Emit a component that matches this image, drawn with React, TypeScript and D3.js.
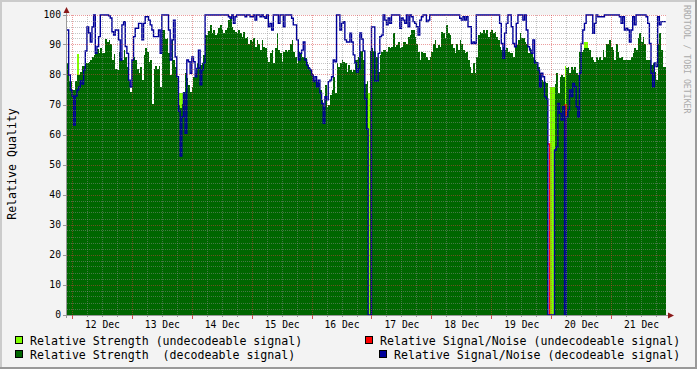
import React from 'react';
import * as d3 from 'd3';

// ---- data (one sample every 40 minutes, starting 11 Dec 21:48) ----
const startTime = Date.UTC(2008, 11, 11, 21, 48);
const stepMinutes = 40;

const strengthDecodeable = [
  84,78,78,75,75,78,80,80,81,83, 83,84,84,84.5,85,86,86.7,87.8,88.6,87.4, 89,87.2,87.2,91.9,91,91.7,90.5,85,87,82,
  81.7,87.8,85.6,85,88.3,86,82.8,78,74.5,85, 86,85,82,80.6,82.8,78.3,86.7,89,87.8,84.4, 85,70.5,82,83,82,83,76,95,95,92,
  92.2,87.2,80,91.7,85,82.8,78.9,70,69,70.5, 74.4,80.6,78.9,76.7,74.4,76,79.4,80.6,84,82.8, 83.3,84,86.7,93.3,93.3,94.8,96.7,93.9,95,93.3,
  93.9,95.6,96.7,95,93.9,95,95.6,98.3,98.9,96.1, 95,94.4,93.9,95,93.9,92.8,94.4,92.2,92.8,90.5, 91.7,91,92.2,89.4,91.7,90.5,88.3,91.7,89.4,89,
  86,84.4,87.2,88.3,84,89,93.9,88.3,87.2,84.4, 87.8,88.3,87.8,88.3,90.5,91.7,87.8,86,84,87.8, 87.2,86,86,85.6,84.4,82.8,81.7,80.6,78.3,78.3,
  77.8,77.2,75,71.7,69.4,76.7,69.4,70,73.3,75, 79.4,73.9,84,82.8,84,85,84.4,84,81.1,83.3, 81.7,81.1,81.7,85,85,86,88,88,85,77,
  78,0,88,89,88,88,86,81,86.7,87.8, 88.3,88.3,87.8,89.4,89,89.4,93.9,89.4,90,91, 89,89.4,91,91,90.5,92.8,93.3,95,95,92.8,
  90.5,87.8,85,87.8,87.2,87.2,86,85,86,87.8, 90.5,91.7,89,90,89.4,94.4,93.9,92.2,96.7,93.9, 93.3,90.5,89,87.2,90.5,88.3,91.7,90.5,88.3,87.2,
  87.8,85,82.8,80.6,84,80.6,86,93.3,94.4,93.9, 95,93.9,95,92.8,94.4,95,93.9,94.4,92.8,91.7, 89.4,88.3,89.4,88.3,89,87.8,87.2,87.2,86,89.4,
  90,91.7,93.9,92.2,92.2,91,90.5,87.2,89,87.2, 86,85,84.4,82.8,80.6,78.3,77.8,77.8,77.2,0, 0,0,0,77,80.6,74,79.4,80,79.4,70,
  82.2,82.8,80.6,82.8,81.7,82.8,80.6,80,87.8,87.8, 88.3,89,89,89,88.3,86,85,84.4,86,85, 86,85,88.3,86,90.5,90.5,91.7,89.4,88.3,85,
  90.5,87.8,85.6,86,85,85,85,85,85,86, 87.2,89,88.3,92.2,93.9,91,92.8,90.5,85,85, 85,83.3,84,81.1,78.3,90.5,93.9,88.3,82.8,82.8,
];

const snDecodeable = [
  95,80,75,73,63.3,73,75,76,78,77, 81.7,88,96,94,91,96,100,87.2,89.5,92.8, 100,100,100,100,100,99.7,99,94.4,93.3,95,
  95,91.7,85,96.7,97.8,89.5,87.2,78.3,76,85, 92.8,95.6,95.6,97.2,97.2,91.7,97.2,99.4,99.4,98.3, 96.7,95,92.8,92.8,92.8,95,87.2,100,100,100,
  100,95,85,91.7,98.3,86,79.4,68,53,66, 74,60.6,85,84.4,80.6,86,84.4,79.4,82.2,88.3, 76.7,81.7,84,100,100,100,100,100,100,100,
  100,100,100,100,100,100,100,99.4,98.9,100, 97.2,99.4,100,100,100,100,100,99.4,100,100, 99.4,99.4,100,98.3,100,100,99.4,100,99.4,98.9,
  100,96.1,97.2,95,100,100,100,97.2,100,100, 96.1,100,100,100,100,98.9,96.7,96.7,91.7,85, 87.2,88.3,91,85,83.3,82.2,81.7,80,77.8,79.4,
  76.1,78.3,73.9,70.5,63.9,72.8,71.7,77.8,78.3,79.4, 85,84.4,100,100,95,97.2,97.8,91.7,91,91, 93.9,91,86.7,84,81,82,94,92,88,72,
  62,0,0,96,96,78,78,87.2,92.8,93.3, 100,98.3,96.7,99,97.2,100,100,100,100,100, 95.6,99,98.3,97.2,100,96.1,100,99.4,97.8,97.2,
  96.1,93.3,98.3,99.4,100,100,97.8,98.3,100,100, 100,100,100,100,100,100,100,100,100,100, 100,100,100,100,100,100,98.9,98.3,99.4,98.3,
  99.4,96.1,96.1,90.5,91,90.5,100,100,100,100, 100,100,100,100,100,100,100,100,100,100, 97.2,90.5,85.6,93.9,97.2,100,100,96.1,90.5,89.4,
  97.2,100,100,100,98.3,100,95,89.4,88.3,87.2, 91.7,84,84,81.7,76,80.6,79.4,72.8,72,0, 0,0,0,55,56,70.5,67.2,65,69.4,0,
  66,68.3,75,72.8,77.2,76.1,69.4,66,80.6,90.5, 95,97.2,100,100,100,100,93.9,97.2,100,99.4, 99.4,99.4,99.4,100,100,100,100,100,100,100,
  100,100,99.4,97.2,99.4,95,95.6,95,91,95, 99.4,96.7,100,100,100,100,100,100,99.4,97.2, 90.5,80.6,76.1,84,82.8,99.4,96.7,97.8,97.8,97.8,
];

// sparse series: [sample index, value]
const strengthUndecodeable: [number, number][] = [
  [6, 87], [67, 74], [68, 74], [69, 74], [181, 74], [290, 76], [291, 76], [292, 76], [299, 83], [311, 91], [312, 91],
];
const snUndecodeableSegments: [number, number][][] = [
  [[289, 57], [290, 0]],
  [[299, 70], [300, 59]],
];

const yTicks = [0, 10, 20, 30, 40, 50, 60, 70, 80, 90, 100];
const yMinorStep = 2;

const legendItems = [
  { label: 'Relative Strength (undecodeable signal)', color: '#80FF00', x: 15, y: 341 },
  { label: 'Relative Strength  (decodeable signal)', color: '#006600', x: 15, y: 355 },
  { label: 'Relative Signal/Noise (undecodeable signal)', color: '#FF0000', x: 365, y: 341 },
  { label: 'Relative Signal/Noise (decodeable signal)', color: '#000099', x: 379, y: 355 },
];

const W = 697;
const H = 369;
const PL = 67, PR = 666, PT = 15, PB = 315;
const MONO = '"DejaVu Sans Mono", monospace';

export default function App() {
  const N = strengthDecodeable.length;
  const stepMs = stepMinutes * 60000;
  const endTime = startTime + N * stepMs;

  const x = d3.scaleUtc().domain([startTime, endTime]).range([PL, PR]);
  const y = d3.scaleLinear().domain([0, 100]).range([PB, PT]);

  type P = { t: number; v: number };
  const toPts = (vals: number[]): P[] => {
    const p = vals.map((v, i) => ({ t: startTime + i * stepMs, v }));
    p.push({ t: endTime, v: vals[vals.length - 1] });
    return p;
  };

  const undecMap = new Map(strengthUndecodeable);
  const undecVals = strengthDecodeable.map((_, i) => undecMap.get(i) ?? 0);

  const area = d3.area<P>().x(d => x(d.t)).y0(y(0)).y1(d => y(d.v)).curve(d3.curveStepAfter);
  const line = d3.line<P>().x(d => x(d.t)).y(d => y(d.v)).curve(d3.curveStepAfter);

  const lightPath = area(toPts(undecVals)) || '';
  const darkPath = area(toPts(strengthDecodeable)) || '';
  const bluePath = line(toPts(snDecodeable)) || '';
  const redPaths = snUndecodeableSegments.map(seg =>
    line(seg.map(([i, v]) => ({ t: startTime + i * stepMs, v }))) || ''
  );

  const minorH = d3.range(0, 100 + 0.001, yMinorStep).filter(v => v % 10 !== 0);
  const days = d3.utcDay.range(new Date(startTime), new Date(endTime)).map(d => d.getTime());
  const sixHours = d3.utcHour.every(6)!.range(new Date(startTime), new Date(endTime))
    .map(d => d.getTime()).filter(t => !days.includes(t));
  const dayLabels = d3.utcDay.range(d3.utcDay.offset(new Date(startTime), -1), new Date(endTime))
    .map(d => d.getTime() + 12 * 3600000)
    .filter(t => t > startTime && t < endTime);
  const fmt = d3.utcFormat('%d %b');

  const px = (v: number) => Math.floor(v) + 0.5;

  return (
    <svg width={W} height={H} style={{ position: 'absolute', left: 0, top: 0, display: 'block' }}
      xmlns="http://www.w3.org/2000/svg">
      <rect x={0} y={0} width={W} height={H} fill="#F3F3F3" />
      {/* bevel frame */}
      <path d={`M0,0H${W}V2H2V${H}H0Z`} fill="#CBCBCB" />
      <path d={`M${W},${H}H0V${H - 2}H${W - 2}V0H${W}Z`} fill="#999999" />

      {/* canvas */}
      <rect x={PL} y={PT} width={PR - PL} height={PB - PT} fill="#FFFFFF" />

      {/* data */}
      <path d={lightPath} fill="#80FF00" shapeRendering="crispEdges" />
      <path d={darkPath} fill="#006600" shapeRendering="crispEdges" />
      {redPaths.map((d, i) => (
        <path key={i} d={d} fill="none" stroke="#FF0000" strokeWidth={1.4} />
      ))}
      <path d={bluePath} fill="none" stroke="#000099" strokeWidth={1.4} />

      {/* grid on top */}
      <g strokeDasharray="1 1" shapeRendering="crispEdges">
        {minorH.map(v => (
          <line key={'mh' + v} x1={PL} x2={PR} y1={px(y(v))} y2={px(y(v))} stroke="rgba(140,140,140,0.5)" />
        ))}
        {sixHours.map(t => (
          <line key={'mv' + t} x1={px(x(t))} x2={px(x(t))} y1={PT} y2={PB} stroke="rgba(140,140,140,0.5)" />
        ))}
        {yTicks.filter(v => v > 0).map(v => (
          <line key={'Mh' + v} x1={PL} x2={PR} y1={px(y(v))} y2={px(y(v))} stroke="rgba(215,60,60,0.5)" />
        ))}
        {days.map(t => (
          <line key={'Mv' + t} x1={px(x(t))} x2={px(x(t))} y1={PT} y2={PB} stroke="rgba(215,60,60,0.5)" />
        ))}
      </g>

      {/* axes */}
      <g shapeRendering="crispEdges">
        <line x1={PL - 3} x2={PR + 3} y1={PB + 0.5} y2={PB + 0.5} stroke="#999999" />
        <line x1={PL - 0.5} x2={PL - 0.5} y1={PT - 3} y2={PB + 3} stroke="#999999" />
        {yTicks.map(v => (
          <line key={'yt' + v} x1={PL - 4} x2={PL} y1={px(y(v))} y2={px(y(v))} stroke="#999999" />
        ))}
        {sixHours.map(t => (
          <line key={'xt' + t} x1={px(x(t))} x2={px(x(t))} y1={PB} y2={PB + 2} stroke="#999999" />
        ))}
        {days.map(t => (
          <line key={'xT' + t} x1={px(x(t))} x2={px(x(t))} y1={PB} y2={PB + 4} stroke="#D05050" />
        ))}
      </g>
      <path d={`M${PL - 0.5},${PT - 8}L${PL - 3.5},${PT - 2}L${PL + 2.5},${PT - 2}Z`} fill="#8B1A1A" />
      <path d={`M${PR + 8},${PB + 0.5}L${PR + 2},${PB - 2.5}L${PR + 2},${PB + 3.5}Z`} fill="#8B1A1A" />

      {/* y tick labels */}
      <g fontFamily={MONO} fontSize={9.7} fill="#000">
        {yTicks.map(v => (
          <text key={'yl' + v} x={61} y={y(v)} dy="0.35em" textAnchor="end">{v}</text>
        ))}
        {dayLabels.map(t => (
          <text key={'xl' + t} x={x(t)} y={327.5} textAnchor="middle">{fmt(new Date(t))}</text>
        ))}
      </g>

      {/* axis title */}
      <text transform="translate(16,164) rotate(-90)" textAnchor="middle" fontFamily={MONO}
        fontSize={11.6} fill="#000">Relative Quality</text>

      {/* watermark */}
      <text transform="translate(684,5) rotate(90)" textAnchor="start" fontFamily={MONO}
        fontSize={8.2} fill="#AAAAAA">RRDTOOL / TOBI OETIKER</text>

      {/* legend */}
      <g fontFamily={MONO} fontSize={11.6} fill="#000">
        {legendItems.map(it => (
          <g key={it.label}>
            <rect x={it.x + 0.5} y={it.y - 4.5} width={7} height={7} fill={it.color} stroke="#000" strokeWidth={1}
              shapeRendering="crispEdges" />
            <text x={it.x + 15} y={it.y} dy="0.35em" style={{ whiteSpace: 'pre' }}>{it.label}</text>
          </g>
        ))}
      </g>
    </svg>
  );
}
